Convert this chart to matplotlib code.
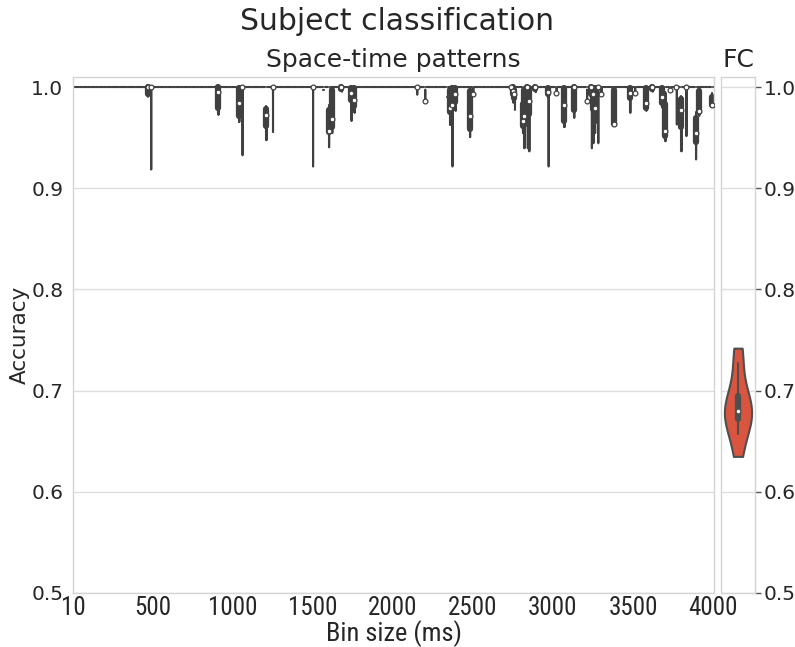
import numpy as np
import matplotlib
matplotlib.use("Agg")
import matplotlib.pyplot as plt
from matplotlib import font_manager
from matplotlib.ticker import FormatStrFormatter

# bin sizes (ms) used for the space-time pattern classifiers
bins = list(range(10, 4001, 10))
tick_bins = [10, 500, 1000, 1500, 2000, 2500, 3000, 3500, 4000]

# bins whose fold accuracies are not all 1.0
varied_bins = [470, 490, 910, 1040, 1060, 1210, 1250, 1500, 1570, 1600,
               1620, 1680, 1740, 1760, 2150, 2200, 2340, 2360, 2370, 2390,
               2480, 2500, 2740, 2750, 2760, 2810, 2820, 2840, 2850, 2890,
               2970, 3020, 3070, 3130, 3210, 3240, 3250, 3260, 3280, 3300,
               3380, 3480, 3510, 3580, 3620, 3680, 3700, 3730, 3770, 3800,
               3830, 3890, 3910, 3990]
varied_scores = [
    [0.991, 0.993, 0.993, 0.995, 1, 1, 1, 1, 1, 1],
    [0.919, 1, 1, 1, 1, 1, 1, 1, 1, 1],
    [0.973, 0.975, 0.978, 0.985, 0.993, 0.997, 1, 1, 1, 1],
    [0.966, 0.967, 0.970, 0.975, 0.982, 0.986, 0.995, 1, 1, 1],
    [0.933, 1, 1, 1, 1, 1, 1, 1, 1, 1],
    [0.948, 0.958, 0.961, 0.965, 0.970, 0.974, 0.977, 0.979, 0.980, 0.981],
    [0.956, 1, 1, 1, 1, 1, 1, 1, 1, 1],
    [0.922, 1, 1, 1, 1, 1, 1, 1, 1, 1],
    [0.997, 0.997, 0.997, 0.997, 0.997, 0.997, 0.997, 0.997, 0.997, 0.997],
    [0.941, 0.953, 0.955, 0.956, 0.957, 0.957, 0.975, 0.978, 0.980, 0.982],
    [0.955, 0.958, 0.960, 0.962, 0.966, 0.970, 0.990, 1, 1, 1],
    [0.996, 0.997, 0.998, 1, 1, 1, 1, 1, 1, 1],
    [0.967, 0.984, 0.986, 0.990, 0.993, 0.995, 0.998, 1, 1, 1],
    [0.975, 0.979, 0.981, 0.984, 0.986, 0.989, 0.995, 1, 1, 1],
    [0.993, 1, 1, 1, 1, 1, 1, 1, 1, 1],
    [0.9865, 0.9865, 0.9865, 0.9865, 0.9865, 0.9865, 0.9865, 0.9865, 0.998, 0.998],
    [0.990, 0.990, 0.990, 0.990, 0.990, 0.990, 0.990, 0.990, 0.990, 0.990],
    [0.963, 0.972, 0.975, 0.977, 0.978, 0.980, 0.990, 1, 1, 1],
    [0.922, 0.975, 0.978, 0.979, 0.981, 0.983, 0.995, 1, 1, 1],
    [0.977, 0.983, 0.985, 0.988, 0.993, 0.994, 0.998, 1, 1, 1],
    [0.951, 0.955, 0.958, 0.962, 0.968, 0.974, 0.990, 0.998, 1, 1],
    [0.9935, 0.9935, 0.9935, 0.9935, 0.9935, 0.9935, 0.9935, 0.9935, 1, 1],
    [0.995, 1, 1, 1, 1, 1, 1, 1, 1, 1],
    [0.985, 0.990, 0.993, 0.995, 0.996, 0.997, 1, 1, 1, 1],
    [0.978, 0.985, 0.989, 0.991, 0.993, 0.994, 0.996, 0.997, 0.998, 0.998],
    [0.955, 0.959, 0.961, 0.963, 0.966, 0.968, 0.978, 0.985, 0.988, 0.990],
    [0.940, 0.958, 0.962, 0.965, 0.969, 0.973, 0.990, 1, 1, 1],
    [0.940, 0.990, 0.992, 0.995, 1, 1, 1, 1, 1, 1],
    [0.937, 0.968, 0.972, 0.978, 0.984, 0.988, 0.996, 1, 1, 1],
    [0.9955, 0.997, 0.998, 1, 1, 1, 1, 1, 1, 1],
    [0.922, 0.990, 0.993, 0.994, 0.995, 0.995, 0.998, 0.999, 1, 1],
    [0.994, 0.994, 0.994, 0.994, 0.994, 0.994, 0.994, 0.994, 1, 1],
    [0.961, 0.963, 0.965, 0.972, 0.979, 0.985, 0.995, 1, 1, 1],
    [0.970, 0.972, 0.975, 0.985, 1, 1, 1, 1, 1, 1],
    [0.9865, 0.9865, 0.9865, 0.9865, 0.9865, 0.9865, 0.9865, 0.9865, 0.998, 0.998],
    [0.940, 0.990, 0.992, 0.995, 1, 1, 1, 1, 1, 1],
    [0.945, 0.972, 0.976, 0.985, 0.992, 0.995, 0.998, 1, 1, 1],
    [0.955, 0.963, 0.966, 0.970, 0.976, 0.982, 0.995, 1, 1, 1],
    [0.945, 1, 1, 1, 1, 1, 1, 1, 1, 1],
    [0.9935, 0.9935, 0.9935, 0.9935, 0.9935, 0.9935, 0.9935, 0.9935, 1, 1],
    [0.9635, 0.9635, 0.9635, 0.9635, 0.9635, 0.9635, 0.990, 1, 1, 1],
    [0.975, 0.988, 0.989, 0.991, 0.993, 0.995, 0.998, 1, 1, 1],
    [0.994, 0.994, 0.994, 0.994, 0.994, 0.994, 0.994, 0.994, 1, 1],
    [0.977, 0.978, 0.979, 0.981, 0.983, 0.985, 0.995, 1, 1, 1],
    [0.996, 0.997, 0.998, 1, 1, 1, 1, 1, 1, 1],
    [0.980, 0.982, 0.984, 0.986, 0.989, 0.991, 0.996, 1, 1, 1],
    [0.947, 0.949, 0.951, 0.953, 0.955, 0.958, 0.975, 0.986, 0.990, 0.995],
    [0.9967, 0.9967, 0.9967, 0.9967, 0.9967, 0.9967, 0.9967, 0.9967, 1, 1],
    [0.9635, 1, 1, 1, 1, 1, 1, 1, 1, 1],
    [0.937, 0.955, 0.959, 0.965, 0.975, 0.979, 0.985, 0.990, 0.991, 0.991],
    [0.952, 1, 1, 1, 1, 1, 1, 1, 1, 1],
    [0.929, 0.940, 0.945, 0.948, 0.952, 0.957, 0.965, 0.971, 0.973, 0.975],
    [0.972, 0.974, 0.975, 0.975, 0.976, 0.976, 0.990, 0.998, 1, 1],
    [0.982, 0.982, 0.982, 0.982, 0.982, 0.982, 0.990, 0.990, 0.994, 0.994],
]
n_folds = 10

# functional connectivity classifier
fc_scores = [0.635, 0.657, 0.671, 0.673, 0.678, 0.682, 0.690, 0.696, 0.727, 0.742]

yticks = [0.5, 0.6, 0.7, 0.8, 0.9, 1.0]

text_col = "#262626"
plt.rcParams["font.family"] = "DejaVu Sans"
plt.rcParams["text.color"] = text_col
plt.rcParams["axes.labelcolor"] = text_col
plt.rcParams["xtick.color"] = text_col
plt.rcParams["ytick.color"] = text_col

# the x axis text in the original is set in a narrow face
installed = {f.name for f in font_manager.fontManager.ttflist}
narrow = None
for cand in ["DejaVu Sans Condensed", "Liberation Sans Narrow", "Roboto Condensed"]:
    if cand in installed:
        narrow = cand
        break
if narrow:
    xfont = dict(family=narrow, size=18)
    xlabfont = dict(family=narrow, size=19)
else:
    xfont = dict(family="DejaVu Sans", size=14.5)
    xlabfont = dict(family="DejaVu Sans", size=15.5)


def kde(vals, grid):
    bw = vals.std(ddof=1) * len(vals) ** (-1 / 5)
    z = (grid[:, None] - vals[None, :]) / bw
    return np.exp(-0.5 * z ** 2).sum(1) / (len(vals) * bw * np.sqrt(2 * np.pi))


def draw_violins(ax, groups, color, gray, lw=1.5, width=0.8):
    curves = []
    for vals in groups:
        vals = np.asarray(vals, dtype=float)
        if np.ptp(vals) == 0:
            curves.append(None)
            continue
        grid = np.linspace(vals.min(), vals.max(), 100)
        curves.append((grid, kde(vals, grid)))
    peak = max(c[1].max() for c in curves if c is not None)
    half = width / 2
    for pos, (vals, c) in enumerate(zip(groups, curves)):
        vals = np.asarray(vals, dtype=float)
        if c is None:
            # all folds identical: a flat line across the violin width
            ax.plot([pos - half, pos + half], [vals[0], vals[0]], color=gray,
                    lw=lw, solid_capstyle="round")
            continue
        grid, dens = c
        d = dens / peak * half
        ax.fill_betweenx(grid, pos - d, pos + d, facecolor=color,
                         edgecolor=gray, lw=lw)
        q1, med, q3 = np.percentile(vals, [25, 50, 75])
        lim = 1.5 * (q3 - q1)
        lo = vals[vals >= q1 - lim].min()
        hi = vals[vals <= q3 + lim].max()
        ax.plot([pos, pos], [lo, hi], color=gray, lw=lw, solid_capstyle="round")
        ax.plot([pos, pos], [q1, q3], color=gray, lw=lw * 3,
                solid_capstyle="round")
        ax.scatter(pos, med, s=(lw * 2) ** 2 + 3, color="white",
                   edgecolor=gray, linewidths=0.9, zorder=3)


def style_axes(ax):
    for sp in ax.spines.values():
        sp.set_color("#d4d4d4")
        sp.set_linewidth(1.0)
    ax.set_axisbelow(True)
    ax.yaxis.grid(True, color="#dedede", lw=1.0)
    ax.xaxis.grid(False)
    ax.set_ylim(0.5, 1.01)
    ax.set_yticks(yticks)
    ax.yaxis.set_major_formatter(FormatStrFormatter("%.1f"))


scores = {b: [1.0] * n_folds for b in bins}
for b, s in zip(varied_bins, varied_scores):
    scores[b] = s
groups = [scores[b] for b in bins]

fig = plt.figure(figsize=(7.95, 6.47), dpi=100)
ax = fig.add_axes([73 / 795, 54 / 647, 641 / 795, 516 / 647])
ax_fc = fig.add_axes([721 / 795, 54 / 647, 34 / 795, 516 / 647])

# space-time patterns
style_axes(ax)
draw_violins(ax, groups, "#444444", "#404040")
ax.set_xlim(-0.5, len(bins) - 0.5)
ax.set_xticks([bins.index(b) for b in tick_bins])
ax.set_xticklabels([str(b) for b in tick_bins], **xfont)
ax.tick_params(axis="x", length=0, pad=2)
ax.tick_params(axis="y", length=0, pad=7, labelsize=14.5)
ax.set_xlabel("Bin size (ms)", labelpad=0, **xlabfont)
ax.set_ylabel("Accuracy", fontsize=15.5)
ax.yaxis.set_label_coords(-0.068, 0.5)
ax.set_title("Space-time patterns", fontsize=18, pad=7)

# FC
style_axes(ax_fc)
draw_violins(ax_fc, [fc_scores], "#d9553f", "#4f4f4f")
ax_fc.set_xlim(-0.5, 0.5)
ax_fc.set_xticks([])
ax_fc.yaxis.tick_right()
ax_fc.tick_params(axis="y", length=4, width=1, pad=2, labelsize=14.5,
                  color="#555555")
ax_fc.set_title("FC", fontsize=18, pad=7)

fig.text(0.5, 1 - 21 / 647, "Subject classification", ha="center",
         va="center", fontsize=21.5)

fig.savefig("out.png", dpi=100)
